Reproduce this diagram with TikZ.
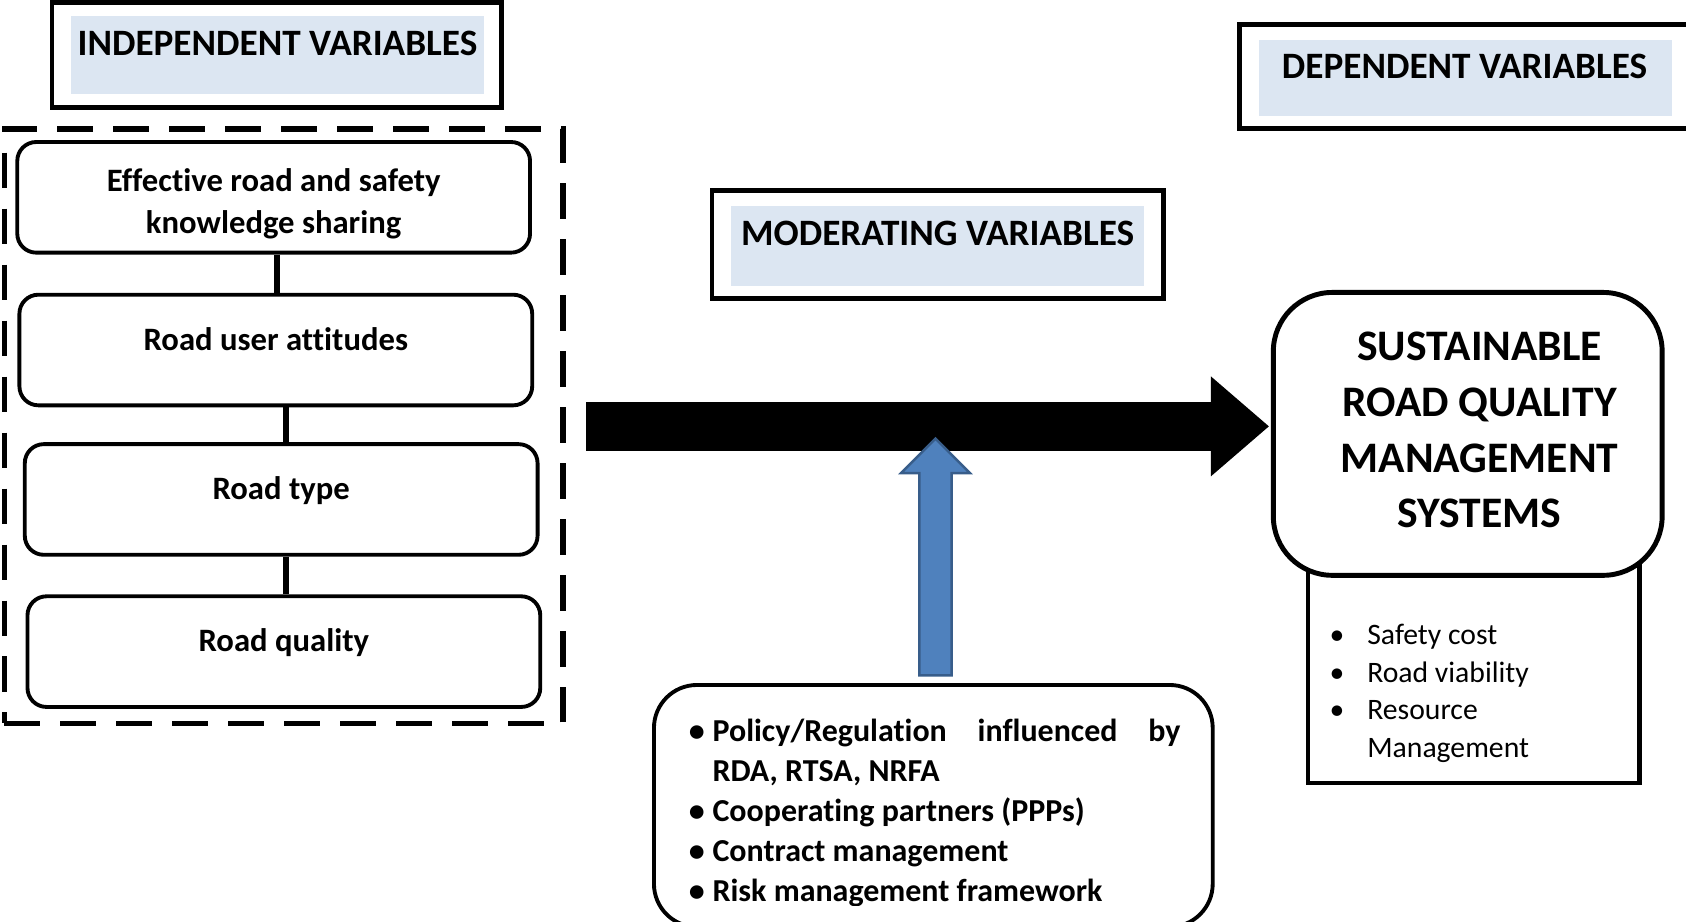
\documentclass[tikz,border=0pt]{standalone}
\usepackage{fontspec}
\setmainfont{Carlito}[Ligatures=NoCommon]
\usetikzlibrary{arrows.meta}

\definecolor{hdrblue}{HTML}{DCE6F2}
\definecolor{arrowblue}{HTML}{4F81BD}
\definecolor{arrowedge}{HTML}{385D8A}

\begin{document}
\begin{tikzpicture} [
            x = 0.01075cm, y = -0.01075cm,
            hdrframe/.style = {draw=black, line width=1.4pt, minimum width=4.5cm, minimum height=1.05cm},
            hdrfill/.style  = {fill=hdrblue, minimum width=4.13cm, minimum height=0.78cm},
            hdrtext/.style  = {inner sep=0pt, font=\fontsize{10.6}{12}\selectfont\bfseries},
            varbox/.style   = {draw=black, line width=1.1pt, rounded corners=0.19cm,
                               minimum width=5.13cm, minimum height=1.107cm, align=center,
                               font=\fontsize{9.3}{11.9}\selectfont\bfseries},
            oneline/.style  = {text height=0.25cm, text depth=0.25cm},
            dashbox/.style  = {draw=black, line width=1.6pt, dash pattern=on 0.355cm off 0.205cm,
                               minimum width=5.59cm, minimum height=5.945cm},
            link/.style     = {line width=1.7pt},
            bigarrow/.style = {line width=0.484cm, shorten <=0.2cm, shorten >=0.02cm,
                               -{Triangle[length=0.58cm, width=1.0cm, line width=0pt]}},
            bluearrow/.style = {draw=arrowedge, fill=arrowblue, line width=0.7pt},
            modbox/.style   = {draw=black, line width=1.1pt, rounded corners=0.43cm,
                               minimum width=5.59cm, minimum height=2.42cm},
            modlist/.style  = {anchor=north west, inner sep=0pt, align=left,
                               font=\fontsize{9.1}{11.4}\selectfont\bfseries},
            goalbox/.style  = {draw=black, fill=white, line width=1.4pt, rounded corners=0.59cm,
                               minimum width=3.89cm, minimum height=2.83cm},
            goaltext/.style = {inner sep=0pt, align=center, font=\fontsize{12.4}{15.85}\selectfont\bfseries},
            outbox/.style   = {draw=black, line width=1.2pt, minimum width=3.32cm, minimum height=2.24cm},
            outlist/.style  = {anchor=north west, inner sep=0pt, align=left,
                               font=\fontsize{8.45}{10.66}\selectfont},
        ]

            \useasboundingbox (0,0) rectangle (1568,857);

            % headers
            \node[hdrframe] (indhdr) at (257.5, 51) {};
            \node[hdrfill]  (indfill) at (258, 51.5) {};
            \node[hdrtext]  (indtxt) at (258, 40) {INDEPENDENT VARIABLES};

            \node[hdrframe, minimum height=1.086cm, minimum width=4.515cm] (modhdr) at (872, 227.5) {};
            \node[hdrfill, minimum height=0.8cm] (modfill) at (872, 229) {};
            \node[hdrtext]  (modtxt) at (872, 217) {MODERATING VARIABLES};

            \node[hdrframe, minimum width=4.53cm, minimum height=1.04cm] (dephdr) at (1363.5, 71.5) {};
            \node[hdrfill, minimum height=0.763cm] (depfill) at (1363, 72.5) {};
            \node[hdrtext]  (deptxt) at (1362, 62) {DEPENDENT VARIABLES};

            % independent variables
            \node[dashbox] (indep) at (264, 396.5) {};
            \node[varbox] (knowshare) at (254.5, 183.5) {\rule{0pt}{0.36cm}Effective road and safety\\knowledge sharing};
            \node[varbox, oneline] (attitude) at (256.5, 325.5) {Road user attitudes};
            \node[varbox, oneline] (roadtype) at (261.5, 464.5) {Road type};
            \node[varbox, oneline] (quality) at (264, 606) {Road quality};

            \draw[link] ([xshift=0.03cm]knowshare.south) -- ([xshift=0.03cm]knowshare.south |- attitude.north);
            \draw[link] ([xshift=0.05cm]roadtype.north) -- ([xshift=0.05cm]roadtype.north |- attitude.south);
            \draw[link] ([xshift=0.02cm]quality.north) -- ([xshift=0.02cm]quality.north |- roadtype.south);

            % dependent variables
            \node[outbox] (outcome) at (1370.5, 624) {};
            \node[goalbox] (srq) at (1365, 403.5) {};
            \node[goaltext] (srqtxt) at (1376, 400) {SUSTAINABLE\\ROAD QUALITY\\MANAGEMENT\\SYSTEMS};
            \node[outlist] (outitems) at (1236, 580) {%
                \makebox[0.376cm][l]{\textbullet}Safety cost\\
                \makebox[0.376cm][l]{\textbullet}Road viability\\
                \makebox[0.376cm][l]{\textbullet}Resource\\
                \hspace*{0.376cm}Management};

            % moderating variables
            \node[modbox] (modvar) at (868, 749.5) {};
            \begin{scope}
                \clip (600, 600) rectangle (1140, 842);
                \node[modlist] (moditems) at (640, 668) {%
                    \makebox[0.237cm][l]{\textbullet}\makebox[4.68cm][s]{Policy/Regulation\hfill influenced\hfill by}\\
                    \hspace*{0.237cm}RDA, RTSA, NRFA\\
                    \makebox[0.237cm][l]{\textbullet}Cooperating partners (PPPs)\\
                    \makebox[0.237cm][l]{\textbullet}Contract management\\
                    \makebox[0.237cm][l]{\textbullet}Risk management framework};
            \end{scope}

            % arrows
            \draw[bigarrow] (indep.east) -- (indep.east -| srq.west);
            \coordinate (modtop) at (870, 628);
            \draw[bluearrow] (modtop) ++(-15,0) -- ++(0,-188) -- ++(-17,0) -- ++(32,-32)
                -- ++(32,32) -- ++(-17,0) -- ++(0,188) -- cycle;
        \end{tikzpicture}
\end{document}
